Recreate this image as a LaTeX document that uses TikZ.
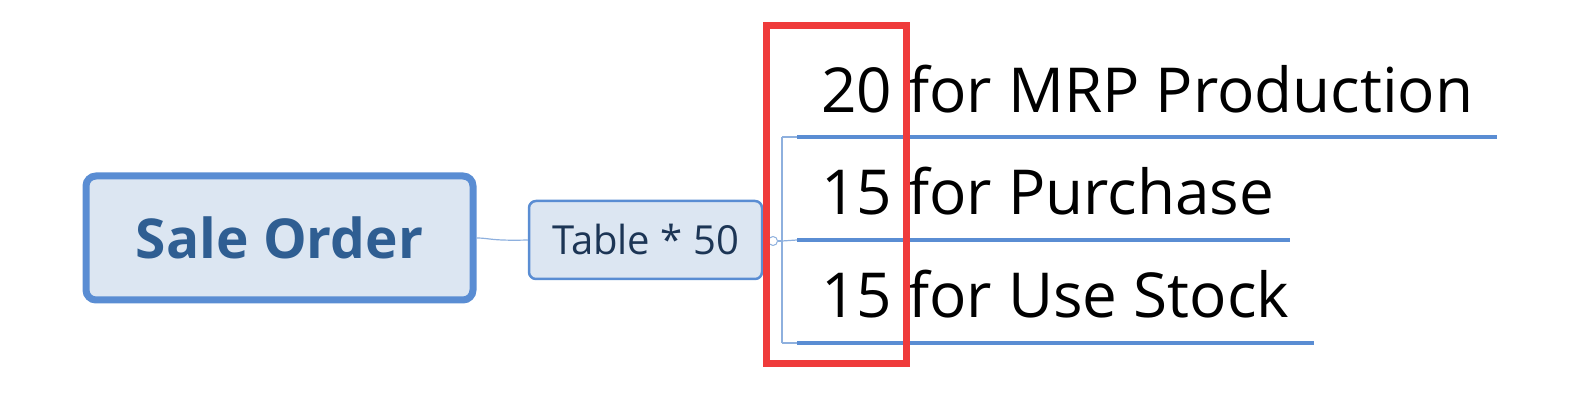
\documentclass[tikz,border=0pt]{standalone}
\usepackage{fontspec}
\setmainfont{Open Sans}
\definecolor{bord}{HTML}{5A8DD3}
\definecolor{fillb}{HTML}{DCE6F2}
\definecolor{soText}{HTML}{2F5E92}
\definecolor{tbText}{HTML}{1C3555}
\definecolor{thin}{HTML}{8EB0DE}
\definecolor{redbox}{HTML}{EF3B3B}
\begin{document}
\begin{tikzpicture}[x=1pt,y=-1pt,
  mainbox/.style={draw=bord,line width=7pt,fill=fillb,rounded corners=10pt,inner sep=0pt,
    minimum width=387pt,minimum height=124pt,text=soText,font=\fontsize{55}{60}\selectfont\bfseries},
  subbox/.style={draw=bord,line width=2.5pt,fill=fillb,rounded corners=7pt,inner sep=0pt,
    minimum width=233pt,minimum height=78pt,text=tbText,font=\fontsize{40}{45}\selectfont},
  rowtext/.style={anchor=base west,inner sep=0pt,text=black,font=\fontsize{62}{67}\selectfont},
  uline/.style={draw=bord,line width=4pt},
  thinline/.style={draw=thin,line width=1.2pt}]
\useasboundingbox (0,0) rectangle (1579,419);
\node[mainbox] (sale) at (279.5,238) {Sale Order};
\node[subbox] (table) at (645.5,240) {Table * 50};
\node[draw=thin,line width=1pt,circle,inner sep=0pt,minimum size=9pt,fill=white] (knob) at (773,241) {};
\coordinate (vtop) at (782,137);
\coordinate (vmid) at (782,241);
\coordinate (vbot) at (782,343);
\coordinate (u1s) at (797,137); \coordinate (u1e) at (1497,137);
\coordinate (u2s) at (797,240); \coordinate (u2e) at (1290,240);
\coordinate (u3s) at (797,343); \coordinate (u3e) at (1314,343);
\node[rowtext] (r1) at (821,113) {20 for MRP Production};
\node[rowtext] (r2) at (821,215) {15 for Purchase};
\node[rowtext] (r3) at (821,318) {15 for Use Stock};
\draw[thinline] (sale.east) .. controls (490,238) and (490,241) .. (table.west);
\draw[thinline] (knob.east) -- (vmid);
\draw[thinline] (vtop) -- (vbot);
\draw[thinline] (vtop) -- (u1s);
\draw[thinline] (vmid) -- (u2s);
\draw[thinline] (vbot) -- (u3s);
\draw[uline] (u1s) -- (u1e);
\draw[uline] (u2s) -- (u2e);
\draw[uline] (u3s) -- (u3e);
\node[draw=redbox,line width=7pt,inner sep=0pt,minimum width=140pt,minimum height=338pt] (hl) at (836.5,194.5) {};
\end{tikzpicture}
\end{document}
